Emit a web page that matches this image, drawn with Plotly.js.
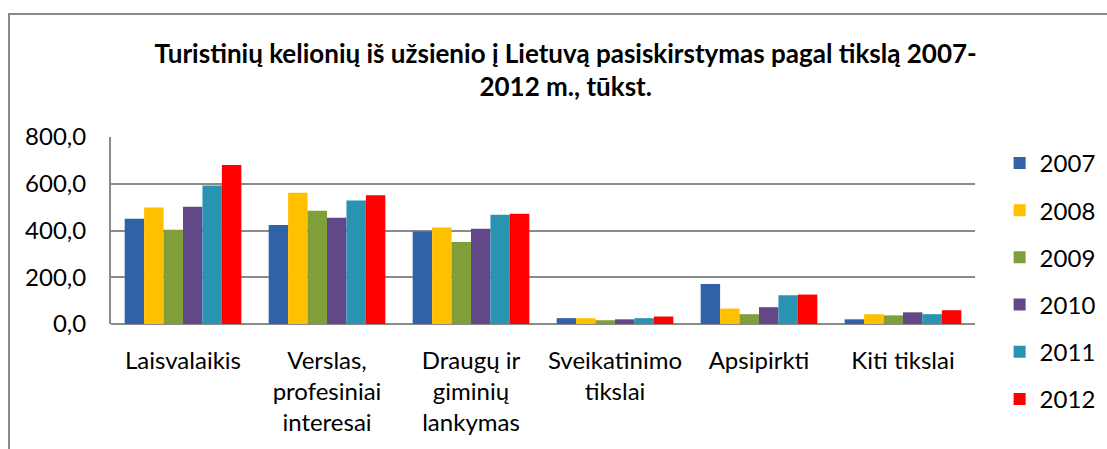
<!DOCTYPE html>
<html>
<head>
<meta charset="utf-8">
<script src="https://cdn.plot.ly/plotly-3.0.1.min.js"></script>
<style>
  body { margin: 0; background: #fff; }
  #frame { position: absolute; left: 8px; top: 13px; width: 1200px; height: 500px;
           border-left: 2px solid #8a8a8a; border-top: 2px solid #8a8a8a; pointer-events: none; }
</style>
</head>
<body>
<div id="plot" style="width:1107px;height:449px;"></div>
<div id="frame"></div>
<script>
// Tikslai
var categories = ["Laisvalaikis", "Verslas,<br>profesiniai<br>interesai", "Draugų ir<br>giminių<br>lankymas",
                  "Sveikatinimo<br>tikslai", "Apsipirkti", "Kiti tikslai"];

var years = ["2007", "2008", "2009", "2010", "2011", "2012"];

var v2007 = [450, 424, 396, 25, 171, 20];
var v2008 = [498, 561, 413, 25, 66, 42];
var v2009 = [403, 485, 351, 16, 42, 37];
var v2010 = [502, 455, 407, 20, 72, 50];
var v2011 = [592, 528, 467, 25, 123, 42];
var v2012 = [680, 551, 472, 32, 126, 59];

var colors = ["#2f62a6", "#ffc000", "#7f9f3a", "#634889", "#2894b2", "#ff0000"];
var series = [v2007, v2008, v2009, v2010, v2011, v2012];

var data = series.map(function (vals, i) {
  return {
    x: categories,
    y: vals,
    name: years[i],
    type: "bar",
    legendgroup: "g" + i,
    marker: { color: colors[i] },
    hoverinfo: "y+name"
  };
});

var layout = {
  title: {
    text: "Turistinių kelionių iš užsienio į Lietuvą pasiskirstymas pagal tikslą 2007-<br>2012 m., tūkst.",
    font: { family: "Lato", size: 26, color: "#000", weight: "bold" },
    x: 0.511, xanchor: "center", xref: "container",
    y: 0.861, yanchor: "middle", yref: "container"
  },
  font: { family: "Lato", color: "#000" },
  separators: ", ",
  barmode: "group",
  bargap: 0.19,
  bargroupgap: 0,
  margin: { l: 111, r: 132, t: 137, b: 126 },
  paper_bgcolor: "#fff",
  plot_bgcolor: "#fff",
  xaxis: {
    tickfont: { size: 24 },
    showline: false,
    ticks: "",
    ticklabelstandoff: 20,
    tickangle: 0
  },
  yaxis: {
    range: [0, 800],
    dtick: 200,
    tickformat: ".1f",
    tickfont: { size: 24 },
    gridcolor: "#8a8a8a",
    gridwidth: 2,
    zeroline: true,
    zerolinecolor: "#8a8a8a",
    zerolinewidth: 2,
    showline: true,
    linecolor: "#8a8a8a",
    linewidth: 2,
    ticks: "",
    ticklabelstandoff: 18
  },
  legend: {
    xref: "container", yref: "container",
    x: 0.903, xanchor: "left",
    y: 0.687, yanchor: "top",
    font: { size: 24 },
    tracegroupgap: 13,
    traceorder: "grouped",
    maxheight: 400
  },
  showlegend: true
};

Plotly.newPlot("plot", data, layout, { displayModeBar: false });
</script>
</body>
</html>
